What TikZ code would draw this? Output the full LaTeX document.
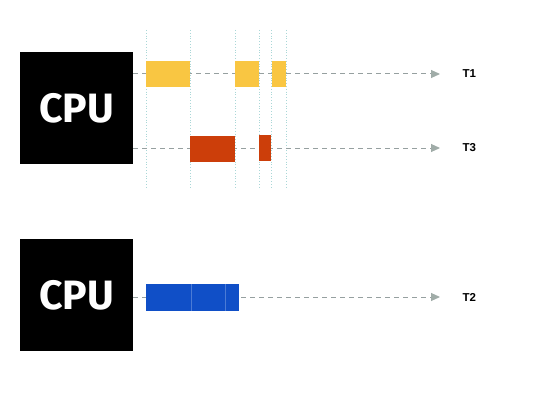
\documentclass[tikz,border=0pt]{standalone}
\usepackage{fontspec}
\setmainfont{Fira Sans}
\newfontfamily\labelfont{Liberation Sans}
\usepackage{tikz}
\usetikzlibrary{arrows.meta,positioning,calc}
\definecolor{taskyellow}{RGB}{249,198,66}
\definecolor{taskred}{RGB}{204,62,10}
\definecolor{taskblue}{RGB}{16,79,199}
\definecolor{runcolour}{RGB}{150,160,160}
\definecolor{tipcolour}{RGB}{160,172,168}
\definecolor{slotcolour}{RGB}{170,215,215}
\newcommand{\slice}[3]{\fill[#1] #2 rectangle #3;}
\newcommand{\slotmark}[1]{\draw[slotline] (#1,30) -- (#1,187);}
\tikzset{
  cpubox/.style={fill=black,minimum width=113pt,minimum height=112pt,inner sep=0pt,
    text=white,font=\bfseries\fontsize{41}{41}\selectfont},
  tasklabel/.style={font=\labelfont\bfseries\fontsize{11.5}{12}\selectfont,anchor=west},
  runline/.style={runcolour,line width=1pt,dash pattern=on 5pt off 4pt,
    -{Triangle[length=9pt,width=8pt,color=tipcolour]}},
  slotline/.style={slotcolour,line width=0.8pt,dotted},
  sliceedge/.style={white,opacity=0.25,line width=0.5pt}
}

\begin{document}
\begin{tikzpicture}[x=1pt,y=-1pt]
\useasboundingbox (0,0) rectangle (540,401);
% time slots
\foreach \x in {146,190,235,259,271,286} {\slotmark{\x}}
% cpus and tasks
\node[cpubox] (cpuA) at (76.5,108) {CPU};
\node[cpubox] (cpuB) at (76.5,295) {CPU};
\node[tasklabel] (tone) at (459,74) {T1};
\node[tasklabel] (tthree) at (459,148) {T3};
\node[tasklabel] (ttwo) at (459,297) {T2};
\coordinate (endone) at (440,74);
\coordinate (endthree) at (440,148);
\coordinate (endtwo) at (440,297);
\draw[runline] (cpuA.east |- endone) -- (endone);
\draw[runline] (cpuA.east |- endthree) -- (endthree);
\draw[runline] (cpuB.east |- endtwo) -- (endtwo);
% slices
\slice{taskyellow}{(146,61)}{(190,87)} \slice{taskyellow}{(235,61)}{(259,87)} \slice{taskyellow}{(272,61)}{(286,87)}
\slice{taskred}{(190,136)}{(235,162)} \slice{taskred}{(259,135)}{(271,161)}
\slice{taskblue}{(146,284)}{(239,311)}
\draw[sliceedge] (191,284) -- (191,311) (225,284) -- (225,311);
\end{tikzpicture}
\end{document}
